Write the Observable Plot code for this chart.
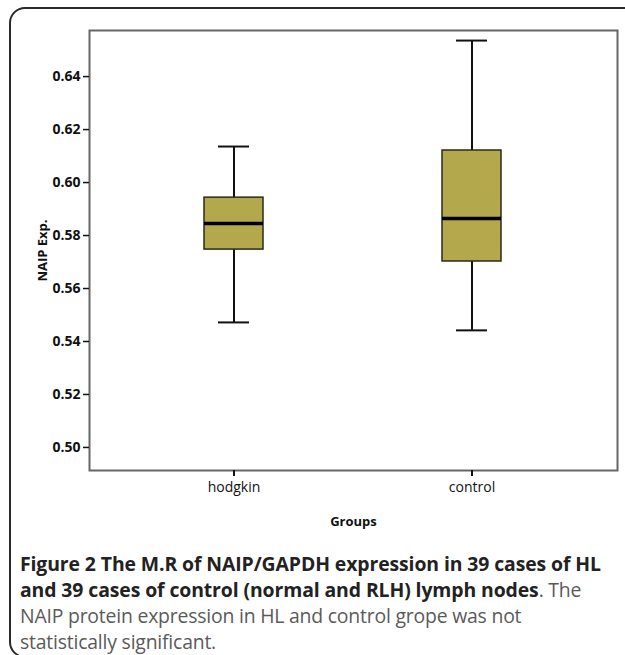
<!DOCTYPE html>
<html>
<head>
<meta charset="utf-8">
<script src="https://cdn.jsdelivr.net/npm/d3@7"></script>
<script src="https://cdn.jsdelivr.net/npm/@observablehq/plot@0.6"></script>
<style>
  html, body { margin: 0; padding: 0; background: #fff; width: 625px; height: 655px; overflow: hidden; }
  #frame { position: absolute; left: 9px; top: 7px; width: 640px; height: 651px; border: 2px solid #2a2a2a; border-radius: 16px; box-sizing: border-box; }
  #chart { position: absolute; left: 0; top: 0; }
  #caption { position: absolute; left: 20px; top: 551px; width: 620px; font-family: "Open Sans", sans-serif; font-size: 19.4px; line-height: 26px; color: #5a5a5a; white-space: nowrap; letter-spacing: -0.2px; }
  #caption b { color: #222; font-weight: 700; letter-spacing: -0.1px; }
</style>
</head>
<body>
<div id="frame"></div>
<div id="chart"></div>
<div id="caption"><b>Figure 2 The M.R of NAIP/GAPDH expression in 39 cases of HL<br>and 39 cases of control (normal and RLH) lymph nodes</b>. The<br>NAIP protein expression in HL and control grope was not<br>statistically significant.</div>
<script>
const groups = ["hodgkin", "control"];
const lowerWhisker = [0.5472, 0.5442];
const q1 = [0.5747, 0.5702];
const medians = [0.5845, 0.5864];
const q3 = [0.5943, 0.6121];
const upperWhisker = [0.6136, 0.6536];
const yTicks = [0.50, 0.52, 0.54, 0.56, 0.58, 0.60, 0.62, 0.64];

const rows = groups.map((g, i) => ({
  group: g, lo: lowerWhisker[i], q1: q1[i], med: medians[i], q3: q3[i], hi: upperWhisker[i]
}));

const fill = "#b4a84c";

const chart = Plot.plot({
  width: 625,
  height: 540,
  marginLeft: 89,
  marginRight: 8,
  marginTop: 30,
  marginBottom: 70,
  style: { fontFamily: "'Open Sans', sans-serif", background: "transparent" },
  x: { type: "band", domain: groups, paddingInner: 0.752, paddingOuter: 0.485, label: null, axis: null },
  y: { domain: [0.4913, 0.6574], label: null, axis: null },
  marks: [
    Plot.frame({ stroke: "#666", strokeWidth: 2 }),
    Plot.ruleX(rows, { x: "group", y1: "lo", y2: "q1", stroke: "#111", strokeWidth: 2 }),
    Plot.ruleX(rows, { x: "group", y1: "q3", y2: "hi", stroke: "#111", strokeWidth: 2 }),
    Plot.tickY(rows, { x: "group", y: "lo", stroke: "#111", strokeWidth: 2, insetLeft: 14, insetRight: 14 }),
    Plot.tickY(rows, { x: "group", y: "hi", stroke: "#111", strokeWidth: 2, insetLeft: 14, insetRight: 14 }),
    Plot.barY(rows, { x: "group", y1: "q1", y2: "q3", fill: fill, stroke: "#2a2a1a", strokeWidth: 1.5 }),
    Plot.tickY(rows, { x: "group", y: "med", stroke: "#000", strokeWidth: 3.5 }),
    Plot.axisY({ ticks: yTicks, tickFormat: d3.format(".2f"), tickSize: 6, tickPadding: 3, fontSize: 14, fontWeight: "bold", fill: "#111", stroke: "#111", strokeWidth: 1.5, label: null }),
    Plot.axisX({ tickSize: 6, tickPadding: 6, fontSize: 14, fill: "#111", stroke: "#111", strokeWidth: 2, label: null }),
    Plot.ruleX([0], { x: () => 0, frameAnchor: "left" }),
    Plot.axisX({ ticks: [], label: "Groups", labelAnchor: "center", labelArrow: "none", labelOffset: 55, fontSize: 13, fontWeight: "bold", fill: "#111" }),
    Plot.axisY({ ticks: [], label: "NAIP Exp.", labelAnchor: "center", labelArrow: "none", labelOffset: 52, fontSize: 13, fontWeight: "bold", fill: "#111" })
  ]
});
document.getElementById("chart").appendChild(chart);
</script>
</body>
</html>
